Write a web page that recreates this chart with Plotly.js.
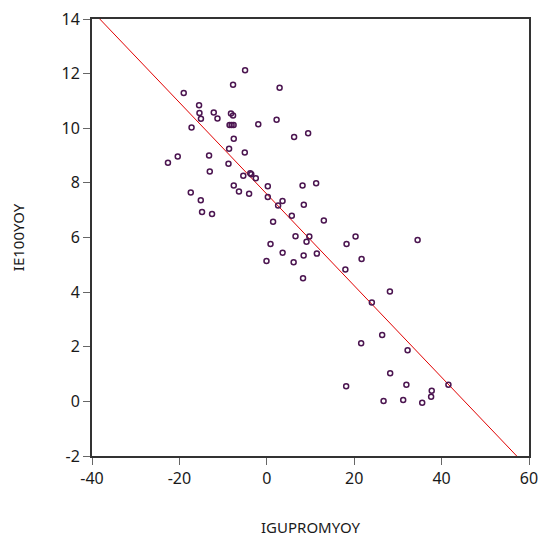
<!DOCTYPE html>
<html>
<head>
<meta charset="utf-8">
<script src="https://cdn.plot.ly/plotly-3.0.1.min.js"></script>
<style>
  html, body { margin: 0; padding: 0; background: #ffffff; }
  #chart { width: 539px; height: 537px; }
</style>
</head>
<body>
<div id="chart"></div>
<script>
// Year-over-year growth: IGUPROMYOY (x) against IE100YOY (y)
const igupromyoy = [
  -4.97, -7.72, -19.01, -15.50, -15.41, -12.14, -15.07, -11.29, -8.20, -7.72,
  -17.22, -8.52, -8.06, -7.60, -1.95, 2.93, 2.24, 6.25, 9.46, -7.56,
  -8.63, -20.38, -22.62, -13.21, -5.04, -13.05, -8.77, -5.38, -3.78, -3.55,
  -2.52, -7.56, -6.37, -4.05, 0.23, 0.23, 2.59, 3.60, -17.40, -15.11,
  -14.82, -12.53, 1.44, 8.18, 11.29, 8.47, 5.72, 13.05, 6.57, 9.73,
  20.31, 34.51, 0.85, 9.09, 18.25, 3.62, 8.43, 11.45, -0.07, 6.14,
  21.69, 17.98, 8.29, 28.17, 24.04, 26.40, 21.59, 32.22, 28.23, 18.16,
  31.94, 41.56, 37.74, 37.60, 26.72, 31.21, 35.56
];
const ie100yoy = [
  12.12, 11.59, 11.29, 10.84, 10.56, 10.58, 10.35, 10.36, 10.54, 10.47,
  10.03, 10.12, 10.12, 10.12, 10.15, 11.48, 10.31, 9.68, 9.82, 9.62,
  9.25, 8.97, 8.74, 9.00, 9.11, 8.42, 8.70, 8.26, 8.35, 8.32,
  8.17, 7.90, 7.68, 7.60, 7.88, 7.48, 7.17, 7.34, 7.65, 7.36,
  6.93, 6.86, 6.58, 7.90, 7.99, 7.20, 6.80, 6.62, 6.05, 6.04,
  6.04, 5.91, 5.76, 5.84, 5.76, 5.44, 5.34, 5.41, 5.14, 5.09,
  5.21, 4.83, 4.51, 4.02, 3.62, 2.43, 2.13, 1.87, 1.03, 0.55,
  0.61, 0.61, 0.39, 0.17, 0.01, 0.05, -0.05
];

// Least-squares fit line: intercept and slope
const fitCoef = [7.59, -0.1677];
const fitX = [-40, 60];
const fitY = fitX.map(x => fitCoef[0] + fitCoef[1] * x);

// Tick values and labels (plain hyphen for negatives)
const xTickVals = [-40, -20, 0, 20, 40, 60];
const xTickText = ["-40", "-20", "0", "20", "40", "60"];
const yTickVals = [-2, 0, 2, 4, 6, 8, 10, 12, 14];
const yTickText = ["-2", "0", "2", "4", "6", "8", "10", "12", "14"];

const font = "Noto Sans, Open Sans, sans-serif";

const traces = [
  {
    type: "scatter",
    mode: "lines",
    x: fitX,
    y: fitY,
    line: { color: "#e00000", width: 1 },
    hoverinfo: "skip",
    showlegend: false
  },
  {
    type: "scatter",
    mode: "markers",
    x: igupromyoy,
    y: ie100yoy,
    marker: {
      symbol: "circle-open",
      size: 5,
      color: "#4b1550",
      line: { width: 1.5, color: "#4b1550" }
    },
    showlegend: false
  }
];

const axisCommon = {
  showline: true,
  mirror: true,
  linecolor: "#333333",
  linewidth: 2,
  showgrid: false,
  zeroline: false,
  ticks: "outside",
  ticklen: 7,
  tickwidth: 1,
  tickcolor: "#666666",
  tickfont: { family: font, size: 16, color: "#1a1a1a" },
  tickmode: "array"
};

const layout = {
  width: 539,
  height: 537,
  margin: { l: 92, r: 10, t: 19, b: 81 },
  paper_bgcolor: "#ffffff",
  plot_bgcolor: "#ffffff",
  xaxis: Object.assign({}, axisCommon, {
    range: [-40, 60],
    tickvals: xTickVals,
    ticktext: xTickText,
    title: { text: "IGUPROMYOY", font: { family: font, size: 15, color: "#1a1a1a" }, standoff: 36 }
  }),
  yaxis: Object.assign({}, axisCommon, {
    range: [-2, 14],
    tickvals: yTickVals,
    ticktext: yTickText,
    title: { text: "IE100YOY", font: { family: font, size: 15, color: "#1a1a1a" }, standoff: 33 }
  })
};

Plotly.newPlot("chart", traces, layout, { staticPlot: true });
</script>
</body>
</html>
